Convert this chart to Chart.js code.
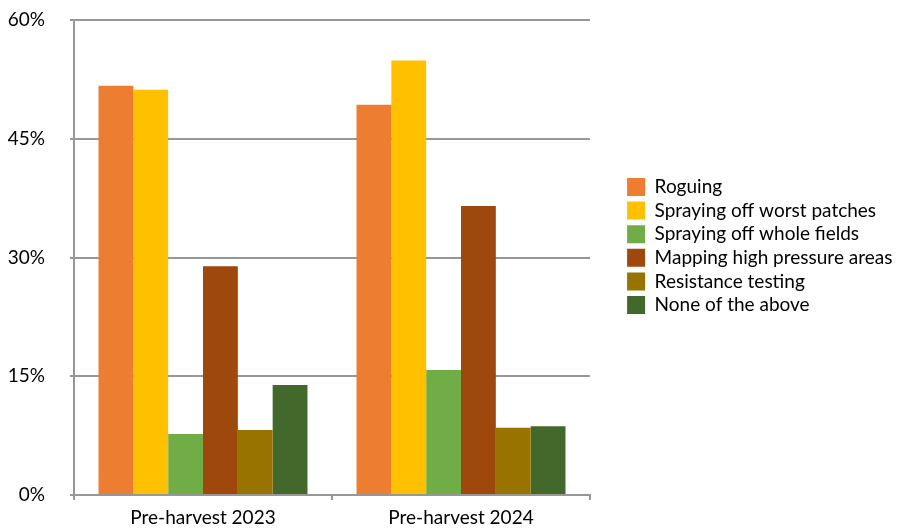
<!DOCTYPE html>
<html>
<head>
<meta charset="utf-8">
<script src="https://cdn.jsdelivr.net/npm/chart.js@4"></script>
<style>
  html, body { margin: 0; padding: 0; background: #fff; }
  #wrap { width: 903px; height: 528px; }
</style>
</head>
<body>
<div id="wrap"><canvas id="myCanvas" width="903" height="528"></canvas></div>
<script>
const categories = ["Pre-harvest 2023", "Pre-harvest 2024"];
const seriesNames = [
  "Roguing",
  "Spraying off worst patches",
  "Spraying off whole fields",
  "Mapping high pressure areas",
  "Resistance testing",
  "None of the above"
];
const roguing = [51.7, 49.3];
const sprayingPatches = [51.2, 54.9];
const sprayingFields = [7.7, 15.8];
const mapping = [28.9, 36.5];
const resistance = [8.2, 8.5];
const noneAbove = [13.9, 8.7];
const yTicks = [0, 15, 30, 45, 60];

const colors = ["#ED7D31", "#FFC000", "#70AD47", "#9E480E", "#997300", "#43682B"];
const seriesValues = [roguing, sprayingPatches, sprayingFields, mapping, resistance, noneAbove];

const datasets = [];
for (let i = 0; i < seriesNames.length; i++) {
  datasets.push({
    label: seriesNames[i],
    data: seriesValues[i],
    backgroundColor: colors[i],
    borderWidth: 0,
    barPercentage: 1,
    categoryPercentage: 0.81
  });
}

const fontFamily = "Lato, 'Liberation Sans', sans-serif";
const gridGray = "#979797";

// legend takes the right part, then nudge its items into place
const legendPlacer = {
  id: "legendPlacer",
  beforeInit(chart) {
    const fit = chart.legend.fit;
    chart.legend.fit = function () {
      fit.bind(chart.legend)();
      this.width = 313;
    };
  },
  afterLayout(chart) {
    const lg = chart.legend;
    lg.left += 32.5;
    lg.right += 32.5;
    lg.top -= 28;
    lg.bottom -= 28;
  }
};

new Chart(document.getElementById("myCanvas"), {
  type: "bar",
  data: { labels: categories, datasets: datasets },
  plugins: [legendPlacer],
  options: {
    responsive: false,
    animation: false,
    layout: { padding: { top: 20, right: 0, bottom: 0, left: 0 } },
    plugins: {
      title: { display: false },
      tooltip: { enabled: false },
      legend: {
        position: "right",
        align: "center",
        labels: {
          boxWidth: 18,
          boxHeight: 18,
          padding: 4.6,
          color: "#000",
          font: { family: fontFamily, size: 19 }
        }
      }
    },
    scales: {
      x: {
        afterFit(scale) {
          scale.height = 33;
          scale.paddingLeft = 0;
          scale.paddingRight = 0;
        },
        grid: {
          offset: true,
          drawOnChartArea: false,
          drawTicks: true,
          tickLength: 5,
          color: gridGray,
          lineWidth: 2
        },
        border: { color: gridGray, width: 2 },
        ticks: {
          padding: 6,
          color: "#000",
          font: { family: fontFamily, size: 19 }
        }
      },
      y: {
        min: 0,
        max: 60,
        afterFit(scale) {
          scale.width = 74;
          scale.paddingTop = 0;
          scale.paddingBottom = 0;
        },
        afterBuildTicks(scale) {
          scale.ticks = yTicks.map(v => ({ value: v }));
        },
        grid: {
          color: gridGray,
          lineWidth: 2,
          tickLength: 4
        },
        border: { color: gridGray, width: 2 },
        ticks: {
          padding: 25,
          color: "#000",
          font: { family: fontFamily, size: 19 },
          callback: v => v + "%"
        }
      }
    }
  }
});
</script>
</body>
</html>
